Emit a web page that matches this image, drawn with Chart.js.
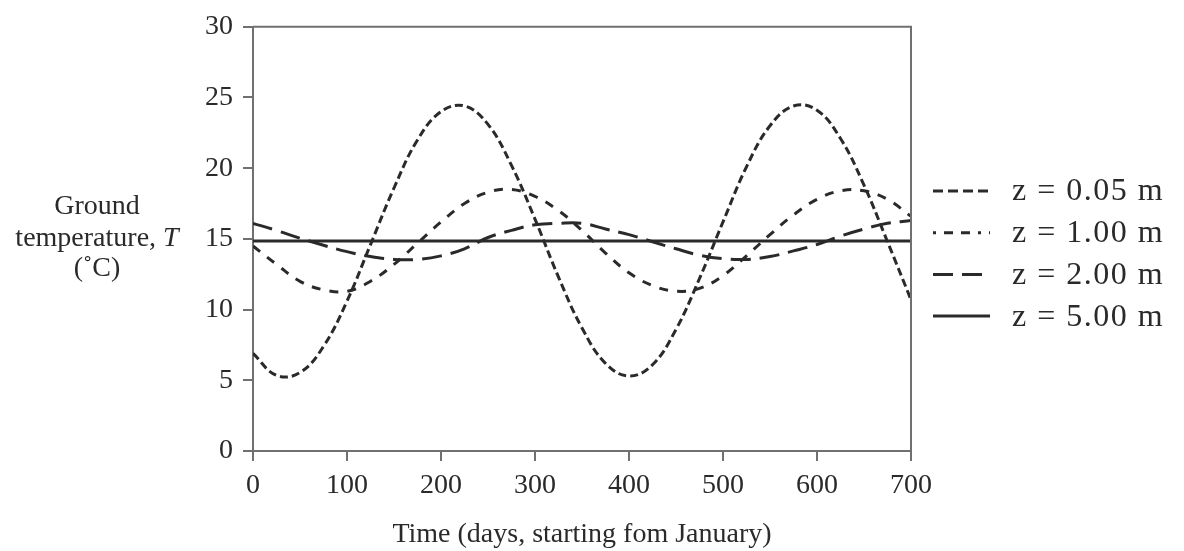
<!DOCTYPE html>
<html>
<head>
<meta charset="utf-8">
<title>Ground temperature</title>
<script src="https://cdn.jsdelivr.net/npm/chart.js@4.4.1/dist/chart.umd.min.js"></script>
<style>
    html, body { margin: 0; padding: 0; background: #fff; }
    #wrap { width: 1184px; height: 551px; position: relative; }
</style>
</head>
<body>
<div id="wrap"><canvas id="chart"></canvas></div>
<script>
// Values (days since start of January, temperature in C)
const days = [0, 25, 50, 75, 100, 125, 150, 175, 200, 225, 250, 275, 300, 325, 350,
              375, 400, 425, 450, 475, 500, 525, 550, 575, 600, 625, 650, 675, 700];
const z005 = [6.9, 5.35, 5.55, 7.4, 10.6, 14.6, 18.6, 22.0, 24.0, 24.4, 23.1, 20.2, 16.4, 12.3, 8.7,
              6.2, 5.3, 6.1, 8.6, 12.2, 16.2, 20.1, 23.0, 24.4, 24.1, 22.1, 18.8, 14.8, 10.7];
const z100 = [14.5, 13.2, 12.0, 11.4, 11.3, 12.0, 13.2, 14.7, 16.2, 17.5, 18.3, 18.5, 18.0, 17.0, 15.6,
              14.0, 12.6, 11.7, 11.3, 11.5, 12.4, 13.8, 15.3, 16.7, 17.8, 18.4, 18.4, 17.8, 16.6];
const z200 = [16.1, 15.6, 15.05, 14.55, 14.1, 13.75, 13.55, 13.55, 13.8, 14.3, 15.1, 15.6, 16.0, 16.1, 16.1,
              15.7, 15.3, 14.8, 14.3, 13.85, 13.6, 13.55, 13.75, 14.15, 14.6, 15.2, 15.7, 16.1, 16.3];
const z500 = [14.85, 14.85, 14.85, 14.85, 14.85, 14.85, 14.85, 14.85, 14.85, 14.85, 14.85, 14.85, 14.85, 14.85, 14.85,
              14.85, 14.85, 14.85, 14.85, 14.85, 14.85, 14.85, 14.85, 14.85, 14.85, 14.85, 14.85, 14.85, 14.85];
const seriesLabels = ['z = 0.05 m', 'z = 1.00 m', 'z = 2.00 m', 'z = 5.00 m'];
const xTicks = [0, 100, 200, 300, 400, 500, 600, 700];
const yTicks = [0, 5, 10, 15, 20, 25, 30];

const ink = '#2a2a2a';
const frameColor = '#707070';
const serif = '"Liberation Serif", "DejaVu Serif", serif';

function toPoints(vals) {
    return days.map((d, i) => ({ x: d, y: vals[i] }));
}

// Box around the plot (top and right sides) + custom horizontal axis titles
const framePlugin = {
    id: 'frame',
    afterDatasetsDraw(chart) {
        const { ctx, chartArea: a } = chart;
        ctx.save();
        ctx.strokeStyle = frameColor;
        ctx.lineWidth = 2;
        ctx.beginPath();
        ctx.moveTo(a.left, a.top);
        ctx.lineTo(a.right, a.top);
        ctx.lineTo(a.right, a.bottom);
        ctx.stroke();
        ctx.restore();
    },
    afterDraw(chart) {
        const ctx = chart.ctx;
        const a = chart.chartArea;
        ctx.save();
        ctx.fillStyle = ink;
        ctx.textBaseline = 'alphabetic';
        ctx.font = '28px ' + serif;

        // y title, three lines, not rotated
        ctx.textAlign = 'center';
        ctx.fillText('Ground', 97, 214);
        const part1 = 'temperature, ';
        ctx.font = '28px ' + serif;
        const w1 = ctx.measureText(part1).width;
        ctx.font = 'italic 28px ' + serif;
        const w2 = ctx.measureText('T').width;
        const startX = 97 - (w1 + w2) / 2;
        ctx.textAlign = 'left';
        ctx.font = '28px ' + serif;
        ctx.fillText(part1, startX, 246);
        ctx.font = 'italic 28px ' + serif;
        ctx.fillText('T', startX + w1, 246);
        ctx.font = '28px ' + serif;
        ctx.textAlign = 'center';
        ctx.fillText('(\u02DAC)', 97, 276);

        // x title
        ctx.fillText('Time (days, starting fom January)', (a.left + a.right) / 2, 542);

        // legend, drawn from the datasets' own styles
        ctx.textAlign = 'left';
        ctx.textBaseline = 'middle';
        chart.data.datasets.forEach((ds, i) => {
            const y = 191 + i * 41.7;
            ctx.save();
            ctx.strokeStyle = ds.borderColor;
            ctx.lineWidth = ds.borderWidth;
            ctx.setLineDash(ds.legendDash || []);
            ctx.beginPath();
            ctx.moveTo(933, y);
            ctx.lineTo(990, y);
            ctx.stroke();
            ctx.restore();
            ctx.font = '32px ' + serif;
            ctx.fillStyle = ink;
            ctx.letterSpacing = '1.5px';
            ctx.fillText(ds.label, 1012, y + 1);
            ctx.letterSpacing = '0px';
        });
        ctx.restore();
    }
};

const ctx = document.getElementById('chart').getContext('2d');
const chart = new Chart(ctx, {
    type: 'line',
    data: {
        datasets: [
            { label: seriesLabels[0], data: toPoints(z005), borderDash: [8, 4], legendDash: [10, 5] },
            { label: seriesLabels[1], data: toPoints(z100), borderDash: [9, 9], legendDash: [3, 8, 9, 8, 9, 8] },
            { label: seriesLabels[2], data: toPoints(z200), borderDash: [20, 9], legendDash: [20, 9] },
            { label: seriesLabels[3], data: toPoints(z500), borderDash: [], legendDash: [] }
        ].map(ds => Object.assign(ds, {
            borderColor: ink,
            borderWidth: 3,
            pointRadius: 0,
            tension: 0.4,
            fill: false
        }))
    },
    options: {
        responsive: true,
        maintainAspectRatio: false,
        animation: false,
        layout: { padding: { top: 23, right: 273, left: 0, bottom: 0 } },
        plugins: {
            legend: { display: false },
            tooltip: { enabled: false }
        },
        scales: {
            x: {
                type: 'linear',
                min: 0,
                max: 700,
                afterFit: s => { s.height = 100; },
                afterBuildTicks: s => { s.ticks = xTicks.map(v => ({ value: v })); },
                grid: { drawOnChartArea: false, drawTicks: true, tickLength: 10, tickColor: frameColor, lineWidth: 2 },
                border: { color: frameColor, width: 2 },
                ticks: { color: ink, font: { family: serif, size: 28 }, padding: 8, maxRotation: 0 }
            },
            y: {
                min: 0,
                max: 30,
                afterFit: s => { s.width = 253; },
                afterBuildTicks: s => { s.ticks = yTicks.map(v => ({ value: v })); },
                grid: { drawOnChartArea: false, drawTicks: true, tickLength: 10, tickColor: frameColor, lineWidth: 2 },
                border: { color: frameColor, width: 2 },
                ticks: { color: ink, font: { family: serif, size: 28 }, padding: 10 }
            }
        }
    },
    plugins: [framePlugin]
});
</script>
</body>
</html>
